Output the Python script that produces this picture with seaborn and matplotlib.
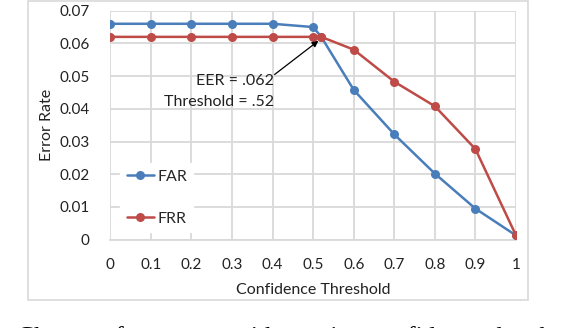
import matplotlib
matplotlib.use("Agg")
import matplotlib.pyplot as plt
import seaborn as sns
import pandas as pd
from matplotlib.patches import Rectangle

thresholds = [0.0, 0.1, 0.2, 0.3, 0.4, 0.5, 0.52, 0.6, 0.7, 0.8, 0.9, 1.0]
far = [0.066, 0.066, 0.066, 0.066, 0.066, 0.065, 0.062, 0.0458, 0.0322, 0.0202, 0.0095, 0.0013]
frr = [0.062, 0.062, 0.062, 0.062, 0.062, 0.062, 0.062, 0.0581, 0.0483, 0.0408, 0.0277, 0.0013]
series_names = ["FAR", "FRR"]
x_ticks = [0, 0.1, 0.2, 0.3, 0.4, 0.5, 0.6, 0.7, 0.8, 0.9, 1]
x_tick_labels = ["0", "0.1", "0.2", "0.3", "0.4", "0.5", "0.6", "0.7", "0.8", "0.9", "1"]
y_ticks = [0, 0.01, 0.02, 0.03, 0.04, 0.05, 0.06, 0.07]
y_tick_labels = ["0", "0.01", "0.02", "0.03", "0.04", "0.05", "0.06", "0.07"]

df = pd.DataFrame({
    "Confidence Threshold": thresholds * 2,
    "Error Rate": far + frr,
    "Series": [series_names[0]] * len(far) + [series_names[1]] * len(frr),
})

sns.set_style("white")
plt.rcParams["font.family"] = ["Lato", "DejaVu Sans"]

W, H = 564, 328
fig = plt.figure(figsize=(W / 100, H / 100), dpi=100)
ax = fig.add_axes([110.3 / W, (H - 239.7) / H, (516 - 110.3) / W, (239.7 - 10.7) / H])

# outer chart frame
fig.patches.append(Rectangle((28 / W, (H - 300) / H), 500 / W, 299 / H,
                             transform=fig.transFigure, fill=False,
                             edgecolor="#D9D9D9", linewidth=1.2, zorder=0))

palette = {"FAR": "#4A7EBB", "FRR": "#BE4B48"}
sns.lineplot(data=df, x="Confidence Threshold", y="Error Rate", hue="Series",
             palette=palette, marker="o", markersize=6.5, markeredgewidth=0,
             linewidth=1.8, ax=ax, zorder=3, sort=False)

ax.set_xlim(0, 1)
ax.set_ylim(0, 0.07)
ax.set_xticks(x_ticks)
ax.set_xticklabels(x_tick_labels)
ax.set_yticks(y_ticks)
ax.set_yticklabels(y_tick_labels)
ax.grid(True, color="#D9D9D9", linewidth=1.3)
ax.set_axisbelow(True)
for s in ["top", "right", "left"]:
    ax.spines[s].set_visible(False)
ax.spines["bottom"].set_color("#D9D9D9")
ax.spines["bottom"].set_linewidth(1.3)
ax.tick_params(axis="both", length=0, labelsize=11, colors="#222222")
ax.tick_params(axis="x", pad=13)
ax.tick_params(axis="y", pad=15)
for lab in ax.get_xticklabels() + ax.get_yticklabels():
    lab.set_clip_on(False)

ax.set_xlabel("Confidence Threshold", fontsize=11.5, color="#222222", labelpad=8)
ax.set_ylabel("Error Rate", fontsize=11.5, color="#222222", labelpad=4)

leg = ax.legend(loc="upper left", bbox_to_anchor=(0.005, 0.37), frameon=True,
                fontsize=11.5, labelspacing=1.75, handlelength=1.7, handletextpad=0.2,
                borderpad=0.4)
leg.get_frame().set_facecolor("white")
leg.get_frame().set_edgecolor("white")
leg.get_frame().set_alpha(1)

ax.annotate("", xy=(0.513, 0.0608), xytext=(0.405, 0.0505),
            arrowprops=dict(arrowstyle="-|>", color="black", lw=0.9,
                            mutation_scale=9, shrinkA=0, shrinkB=0))
ax.text(0.404, 0.0485, "EER = .062", ha="right", va="center", fontsize=11.5, color="#222222")
ax.text(0.404, 0.0420, "Threshold = .52", ha="right", va="center", fontsize=11.5, color="#222222")

fig.text(17 / W, -0.049, "Change of error rate with varying confidence threshold",
         family=["Liberation Serif", "DejaVu Serif"], fontsize=18.5, va="baseline",
         ha="left", color="black")

fig.savefig("out.png", dpi=100)
